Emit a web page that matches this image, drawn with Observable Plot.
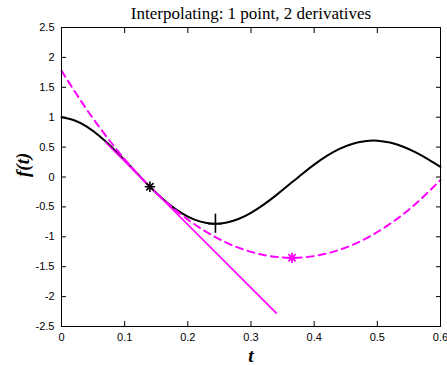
<!DOCTYPE html>
<html>
<head>
<meta charset="utf-8">
<script src="https://cdn.jsdelivr.net/npm/d3@7"></script>
<script src="https://cdn.jsdelivr.net/npm/@observablehq/plot@0.6"></script>
<style>
  html, body { margin: 0; padding: 0; background: #fff; }
</style>
</head>
<body>
<div id="chart"></div>
<script>
// Black curve f(t)
const tVals = [0, 0.02, 0.04, 0.06, 0.08, 0.10, 0.12, 0.14, 0.16, 0.18, 0.20, 0.22, 0.24, 0.26, 0.28, 0.30,
               0.32, 0.34, 0.36, 0.38, 0.40, 0.42, 0.44, 0.46, 0.48, 0.50, 0.52, 0.54, 0.56, 0.58, 0.60];
const fVals = [1.000, 0.949, 0.842, 0.687, 0.495, 0.280, 0.056, -0.163, -0.363, -0.532, -0.662, -0.746, -0.780, -0.765, -0.703, -0.599,
               -0.463, -0.303, -0.131, 0.043, 0.207, 0.352, 0.470, 0.553, 0.599, 0.607, 0.576, 0.511, 0.416, 0.300, 0.170];

// Magenta dashed quadratic interpolant
const qT = [0, 0.04, 0.08, 0.12, 0.16, 0.20, 0.24, 0.28, 0.32, 0.36, 0.40, 0.44, 0.48, 0.52, 0.56, 0.60];
const qVals = [1.777, 1.129, 0.556, 0.058, -0.365, -0.712, -0.985, -1.182, -1.304, -1.350, -1.322, -1.218, -1.039, -0.784, -0.455, -0.050];

// Magenta solid tangent line
const lineT = [0.07, 0.34];
const lineVals = [0.577, -2.277];

// Markers
const expPoint = [{t: 0.14, v: -0.163}];   // black asterisk
const quadMin = [{t: 0.365, v: -1.351}];   // magenta asterisk
const fMin = [{t: 0.2437, v: -0.781}];     // black plus

const xTicks = [0, 0.1, 0.2, 0.3, 0.4, 0.5, 0.6];
const yTicks = [-2.5, -2, -1.5, -1, -0.5, 0, 0.5, 1, 1.5, 2, 2.5];

const title = "Interpolating: 1 point, 2 derivatives";
const xLabel = "t";
const yLabel = "f(t)";

const curve = tVals.map((t, i) => ({t, v: fVals[i]}));
const quad = qT.map((t, i) => ({t, v: qVals[i]}));
const tangent = lineT.map((t, i) => ({t, v: lineVals[i]}));

const magenta = "#ff00ff";
const serif = "'Liberation Serif', 'Times New Roman', serif";

const chart = Plot.plot({
  width: 447,
  height: 365,
  marginTop: 27,
  marginLeft: 61,
  marginRight: 7,
  marginBottom: 39,
  x: {domain: [0, 0.6]},
  y: {domain: [-2.5, 2.5]},
  style: {fontFamily: "'Liberation Sans', Arial, sans-serif", fontSize: "11px", background: "#fff", color: "#000"},
  marks: [
    Plot.axisX(xTicks, {anchor: "bottom", tickSize: 0, tickPadding: 7, tickFormat: d => String(d), label: null, fontSize: 11}),
    Plot.axisY(yTicks, {anchor: "left", tickSize: 0, tickPadding: 7, tickFormat: d => String(d), label: null, fontSize: 11}),
    Plot.axisX(xTicks, {anchor: "bottom", tickSize: -5, tickFormat: () => "", label: null}),
    Plot.axisX(xTicks, {anchor: "top", tickSize: -5, tickFormat: () => "", label: null}),
    Plot.axisY(yTicks, {anchor: "left", tickSize: -5, tickFormat: () => "", label: null}),
    Plot.axisY(yTicks, {anchor: "right", tickSize: -5, tickFormat: () => "", label: null}),
    Plot.line(curve, {x: "t", y: "v", stroke: "#000", strokeWidth: 2, curve: "natural"}),
    Plot.line(tangent, {x: "t", y: "v", stroke: magenta, strokeWidth: 1.6}),
    Plot.line(quad, {x: "t", y: "v", stroke: magenta, strokeWidth: 2, strokeDasharray: "7,5", curve: "natural"}),
    Plot.dot(expPoint, {x: "t", y: "v", symbol: "plus", r: 3.4, stroke: "#000", strokeWidth: 1.6}),
    Plot.dot(expPoint, {x: "t", y: "v", symbol: "times", r: 3.4, stroke: "#000", strokeWidth: 1.6}),
    Plot.dot(quadMin, {x: "t", y: "v", symbol: "plus", r: 3.4, stroke: magenta, strokeWidth: 1.8}),
    Plot.dot(quadMin, {x: "t", y: "v", symbol: "times", r: 3.4, stroke: magenta, strokeWidth: 1.8}),
    Plot.ruleX(fMin, {x: "t", y1: d => d.v - 0.16, y2: d => d.v + 0.16, stroke: "#000", strokeWidth: 1.6}),
    Plot.ruleY(fMin, {y: "v", x1: d => d.t - 0.011, x2: d => d.t + 0.011, stroke: "#000", strokeWidth: 1.6}),
    Plot.frame({stroke: "#000", strokeWidth: 1}),
    Plot.text([title], {text: d => d, frameAnchor: "top", lineAnchor: "middle", dy: -14, fontFamily: serif, fontSize: 17, fill: "#000"}),
    Plot.text([xLabel], {text: d => d, frameAnchor: "bottom", lineAnchor: "middle", dy: 29, fontFamily: serif, fontSize: 19, fontWeight: "bold", fontStyle: "italic", fill: "#000"}),
    Plot.text([yLabel], {text: d => d, frameAnchor: "left", lineAnchor: "middle", rotate: -90, dx: -39, fontFamily: serif, fontSize: 19, fontWeight: "bold", fontStyle: "italic", fill: "#000"})
  ]
});
document.getElementById("chart").appendChild(chart);
</script>
</body>
</html>
